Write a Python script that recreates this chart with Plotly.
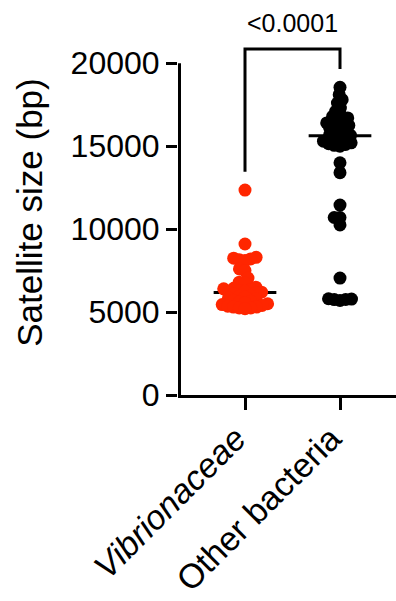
import numpy as np
import plotly.graph_objects as go

categories = ["<i>Vibrionaceae</i>", "Other bacteria"]
vibrio = [12350, 9100, 8300, 8250, 8200, 8150, 8100, 7600, 7500, 7050, 6800, 6750,
          6500, 6450, 6400, 6350, 6300, 6250, 6200, 6200, 6150, 6100, 6000, 5950,
          5900, 5850, 5800, 5700, 5650, 5600, 5550, 5500, 5450, 5400, 5350, 5300,
          5300, 5250, 5250, 5200]
other = [18550, 18100, 17800, 17600, 17300, 17100, 16900, 16800, 16700, 16600,
         16500, 16400, 16300, 16250, 16200, 16100, 16000, 15900, 15800, 15700,
         15650, 15600, 15500, 15400, 15300, 15200, 15150, 15100, 15050, 15000,
         14000, 13400, 11450, 10700, 10700, 10250, 7050, 5800, 5780, 5760, 5750, 5700]
colors = ["#FF2600", "#000000"]
p_text = "<0.0001"
y_ticks = [0, 5000, 10000, 15000, 20000]
y_ticktext = ["0", "5000", "10000", "15000", "20000"]

# layout geometry (pixels)
W, H = 396, 601
px_per_1000 = 16.6
y_axis_top = 20000
y_range = [0, 22000]
plot_bottom = 395
plot_h = y_range[1] * px_per_1000 / 1000
mt = int(round(plot_bottom - plot_h))
mb = H - plot_bottom
plot_h = H - mt - mb
ml, mr = 178, 0
plot_w = W - ml - mr
cat_px = [245, 340]
px_per_x = cat_px[1] - cat_px[0]
x_range = [(ml - cat_px[0]) / px_per_x, (W - cat_px[0]) / px_per_x]
px_per_y = plot_h / (y_range[1] - y_range[0])
marker_d = 13
spacing = 5.8


def beeswarm(values, d):
    ys = np.array(values, dtype=float) * px_per_y
    order = np.argsort(ys)
    placed = []
    xs = np.zeros(len(ys))
    for i in order:
        yi = ys[i]
        intervals = []
        for (xj, yj) in placed:
            dy = abs(yi - yj)
            if dy < d:
                w = np.sqrt(d * d - dy * dy)
                intervals.append((xj - w, xj + w))
        cands = [0.0] + [b for iv in intervals for b in iv]
        cands.sort(key=lambda c: (abs(c), c))
        chosen = 0.0
        for c in cands:
            if all(not (a + 1e-6 < c < b - 1e-6) for a, b in intervals):
                chosen = c
                break
        xs[i] = chosen
        placed.append((chosen, yi))
    return xs / px_per_x


fig = go.Figure()
groups = [vibrio, other]

# y-axis line from 0 to the top tick (drawn just inside the plot edge)
axis_x = x_range[0] + 1.5 / px_per_x
fig.add_trace(go.Scatter(x=[axis_x, axis_x], y=[y_range[0], y_axis_top], mode="lines",
                         line=dict(color="black", width=3), showlegend=False,
                         hoverinfo="skip"))

for i, vals in enumerate(groups):
    med = float(np.median(vals))
    fig.add_trace(go.Scatter(x=[i - 0.33, i + 0.33], y=[med, med], mode="lines",
                             line=dict(color="black", width=3), showlegend=False,
                             hoverinfo="skip"))
for i, vals in enumerate(groups):
    offs = beeswarm(vals, spacing)
    fig.add_trace(go.Scatter(x=i + offs, y=vals, mode="markers",
                             marker=dict(color=colors[i], size=marker_d, line=dict(width=0)),
                             showlegend=False, cliponaxis=False))

# significance bracket
gap = 1100
top = 20850
fig.add_trace(go.Scatter(x=[0, 0, 1, 1], y=[max(vibrio) + gap, top, top, max(other) + gap],
                         mode="lines", line=dict(color="black", width=3),
                         showlegend=False, cliponaxis=False, hoverinfo="skip"))
fig.add_annotation(x=0.5, y=top, xref="x", yref="y", text=p_text, showarrow=False,
                   yanchor="bottom", yshift=10, font=dict(size=25, color="black"))

font_fam = "Arial, Liberation Sans, sans-serif"
fig.update_layout(
    width=W, height=H, margin=dict(l=ml, r=mr, t=mt, b=mb, autoexpand=False),
    paper_bgcolor="white", plot_bgcolor="white",
    font=dict(family=font_fam, color="black"),
    xaxis=dict(range=x_range, tickvals=[0, 1], ticktext=categories, tickangle=-45,
               showline=True, linecolor="black", linewidth=3, ticks="outside",
               ticklen=12, tickwidth=3, tickcolor="black", showgrid=False, zeroline=False,
               automargin=False, tickfont=dict(size=34, family=font_fam),
               ticklabelshift=-9, ticklabelstandoff=-5),
    yaxis=dict(range=y_range, tickvals=y_ticks, ticktext=y_ticktext, showline=False,
               ticks="outside", ticklen=11, tickwidth=3, tickcolor="black",
               showgrid=False, zeroline=False, automargin=False,
               tickfont=dict(size=32, family=font_fam),
               title=dict(text="Satellite size (bp)", font=dict(size=35, family=font_fam),
                          standoff=17)),
)
fig.write_html("out.html", config={"displayModeBar": False},
               post_script="document.body.style.margin='0';document.body.style.padding='0';")
